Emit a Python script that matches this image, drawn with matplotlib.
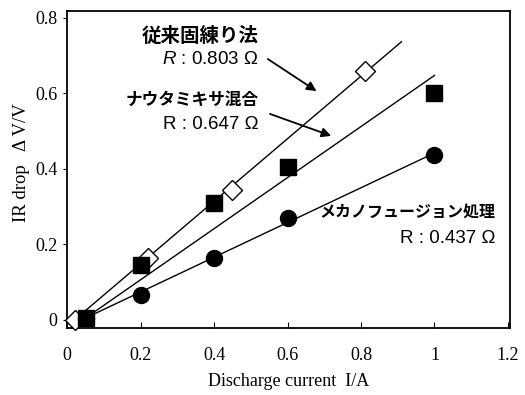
import numpy as np
import matplotlib
matplotlib.use("Agg")
import matplotlib.pyplot as plt

# data
current_conv = [0.02, 0.22, 0.45, 0.81]
drop_conv = [0.0, 0.165, 0.345, 0.66]

current_nauta = [0.05, 0.20, 0.40, 0.60, 1.00]
drop_nauta = [0.005, 0.145, 0.31, 0.405, 0.60]

current_mech = [0.05, 0.20, 0.40, 0.60, 1.00]
drop_mech = [0.005, 0.065, 0.165, 0.27, 0.437]

label_conv = "従来固練り法"
label_nauta = "ナウタミキサ混合"
label_mech = "メカノフュージョン処理"
r_conv = "0.803"
r_nauta = "0.647"
r_mech = "0.437"

serif = "Liberation Serif"
sans = "Liberation Sans"
jp = ["Noto Sans CJK JP", "DejaVu Sans"]

plt.rcParams["mathtext.fontset"] = "custom"
plt.rcParams["mathtext.it"] = "Liberation Sans:italic"
plt.rcParams["mathtext.rm"] = "Liberation Sans"

fig = plt.figure(figsize=(5.25, 3.95), dpi=100)
ax = fig.add_axes([0.128, 0.170, 0.843, 0.802])


def fit_line(ax, x, y, x_end):
    # straight line through the first point, slope from least squares
    x = np.asarray(x)
    y = np.asarray(y)
    dx = x - x[0]
    dy = y - y[0]
    k = (dx * dy).sum() / (dx * dx).sum()
    xs = np.array([x[0], x_end])
    ax.plot(xs, y[0] + k * (xs - x[0]), color="black", lw=1.0, zorder=2)


fit_line(ax, current_conv, drop_conv, 0.91)
fit_line(ax, current_nauta, drop_nauta, 1.0)
fit_line(ax, current_mech, drop_mech, 1.0)

ax.plot(current_conv, drop_conv, "D", ms=10, mfc="white", mec="black",
        mew=1.0, ls="none", zorder=3, clip_on=False)
ax.plot(current_nauta, drop_nauta, "s", ms=11, mfc="black", mec="black",
        ls="none", zorder=3, clip_on=False)
ax.plot(current_mech, drop_mech, "o", ms=11.5, mfc="black", mec="black",
        ls="none", zorder=3, clip_on=False)

ax.set_xlim(0, 1.205)
ax.set_ylim(-0.021, 0.818)
ax.set_xticks([0, 0.2, 0.4, 0.6, 0.8, 1.0, 1.2])
ax.set_xticklabels(["0", "0.2", "0.4", "0.6", "0.8", "1", "1.2"])
ax.set_yticks([0, 0.2, 0.4, 0.6, 0.8])
ax.set_yticklabels(["0", "0.2", "0.4", "0.6", "0.8"])
ax.tick_params(axis="x", direction="in", length=4, labelsize=13, pad=14)
ax.tick_params(axis="y", direction="out", length=3, labelsize=13, pad=4)
for lab in ax.get_xticklabels() + ax.get_yticklabels():
    lab.set_fontfamily(serif)
for sp in ax.spines.values():
    sp.set_linewidth(1.3)

ax.set_xlabel("Discharge current  I/A", fontfamily=serif, fontsize=13, labelpad=6)
ax.set_ylabel("IR drop   Δ V/V", fontfamily=serif, fontsize=13.5)
ax.yaxis.set_label_coords(-0.085, 0.52)

# annotations
ax.text(0.522, 0.752, label_conv, ha="right", va="center", fontsize=14,
        family=jp, fontweight="bold")
ax.text(0.522, 0.689, "$R$ : " + r_conv + " Ω", ha="right", va="center",
        fontsize=13.5, family=sans)
ax.text(0.522, 0.583, label_nauta, ha="right", va="center", fontsize=12,
        family=jp, fontweight="bold")
ax.text(0.522, 0.517, "R : " + r_nauta + " Ω", ha="right", va="center",
        fontsize=13.5, family=sans)
ax.text(1.165, 0.286, label_mech, ha="right", va="center", fontsize=11.5,
        family=jp, fontweight="bold")
ax.text(1.165, 0.215, "R : " + r_mech + " Ω", ha="right", va="center",
        fontsize=13.5, family=sans)

arrow = dict(arrowstyle="-|>", color="black", lw=1.3, mutation_scale=14)
ax.annotate("", xy=(0.685, 0.602), xytext=(0.54, 0.695), arrowprops=arrow)
ax.annotate("", xy=(0.726, 0.485), xytext=(0.545, 0.548), arrowprops=arrow)

fig.savefig("out.png", dpi=100)
